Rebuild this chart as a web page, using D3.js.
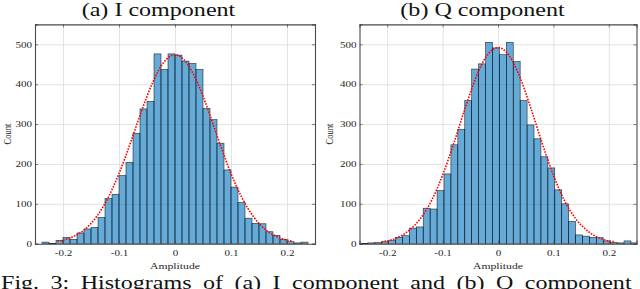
<!DOCTYPE html>
<html>
<head>
<meta charset="utf-8">
<script src="https://d3js.org/d3.v7.min.js"></script>
<style>
  body { margin: 0; background: #fff; }
</style>
</head>
<body>
<div id="chart"></div>
<script>
// histogram counts, 40 bins each, bin width 0.0125
const binWidth = 0.0125;
const iBinStart = -0.25;
const qBinStart = -0.2475;
const iCounts = [0, 4, 1, 8, 16, 11, 27, 37, 41, 66,
                 113, 124, 171, 204, 277, 338, 357, 476, 437, 476,
                 473, 458, 452, 437, 339, 311, 252, 185, 142, 103,
                 64, 51, 50, 30, 21, 11, 5, 2, 4, 0];
const qCounts = [1, 2, 3, 5, 8, 16, 20, 39, 42, 89,
                 87, 133, 175, 248, 287, 359, 438, 451, 505, 491,
                 474, 505, 457, 359, 298, 263, 218, 190, 135, 100,
                 56, 22, 19, 16, 15, 7, 3, 2, 7, 2];

// fitted curve (red dotted)
const curveX = [-0.21, -0.2, -0.18, -0.16, -0.14, -0.12, -0.1, -0.08, -0.06, -0.04, -0.02, 0,
                0.02, 0.04, 0.06, 0.08, 0.1, 0.12, 0.14, 0.16, 0.18, 0.2, 0.21];
const iCurve = [6, 9, 19, 37, 68, 114, 176, 251, 332, 404, 455, 474,
                455, 404, 332, 251, 176, 114, 68, 37, 19, 9, 6];
const qCurve = [5, 7, 16, 34, 63, 108, 172, 251, 337, 416, 472, 492,
                472, 416, 337, 251, 172, 108, 63, 34, 16, 7, 5];

const xTicks = [-0.2, -0.1, 0, 0.1, 0.2];
const xTickLabels = ["-0.2", "-0.1", "0", "0.1", "0.2"];
const yTicks = [0, 100, 200, 300, 400, 500];
const titles = ["(a) I component", "(b) Q component"];
const caption = "Fig. 3:  Histograms of (a) I component and (b) Q component";

const w = 640, h = 289;
const serif = '"Liberation Serif", "Times New Roman", Times, serif';
const stretch = 1.3;   // the original figure is widened horizontally

// widen glyphs like the source image
function widen(sel, k){
    sel.each(function(){
        const len = this.getComputedTextLength();
        d3.select(this).attr('textLength', len * k).attr('lengthAdjust', 'spacingAndGlyphs');
    });
}

const svg = d3.select('#chart').append('svg')
    .attr('width', w).attr('height', h)
    .style('font-family', serif);

const panels = [
    {left: 35, right: 315, counts: iCounts, start: iBinStart, curve: iCurve, title: titles[0], titleX: 158.5, countX: 7},
    {left: 359.5, right: 636.5, counts: qCounts, start: qBinStart, curve: qCurve, title: titles[1], titleX: 482.5, countX: 329}
];
const axTop = 24.4, axBottom = 243.7;

panels.forEach(function(p, idx){
    const xScale = d3.scaleLinear().domain([-0.25, 0.25]).range([p.left, p.right]);
    const yScale = d3.scaleLinear().domain([0, 550]).range([axBottom, axTop]);
    const g = svg.append('g');

    g.append('clipPath').attr('id', 'clip' + idx)
        .append('rect').attr('x', p.left).attr('y', axTop)
        .attr('width', p.right - p.left).attr('height', axBottom - axTop);

    // grid
    g.append('g')
        .attr('transform', 'translate(0,' + axBottom + ')')
        .call(d3.axisBottom(xScale).tickValues(xTicks).tickSize(-(axBottom - axTop)).tickFormat(''))
        .call(s => s.select('.domain').remove())
        .selectAll('line').attr('stroke', '#dcdcdc').attr('stroke-width', 0.8);
    g.append('g')
        .attr('transform', 'translate(' + p.left + ',0)')
        .call(d3.axisLeft(yScale).tickValues(yTicks).tickSize(-(p.right - p.left)).tickFormat(''))
        .call(s => s.select('.domain').remove())
        .selectAll('line').attr('stroke', '#dcdcdc').attr('stroke-width', 0.8);

    // bars
    g.append('g').attr('clip-path', 'url(#clip' + idx + ')')
        .selectAll('rect')
        .data(p.counts)
        .enter()
        .append('rect')
        .attr('x', (d, i) => xScale(p.start + i * binWidth))
        .attr('width', (d, i) => xScale(p.start + (i + 1) * binWidth) - xScale(p.start + i * binWidth))
        .attr('y', d => yScale(d))
        .attr('height', d => yScale(0) - yScale(d))
        .attr('fill', '#0072BD')
        .attr('fill-opacity', 0.6)
        .attr('stroke', '#000')
        .attr('stroke-opacity', 0.8)
        .attr('stroke-width', 0.6);

    // fitted curve
    const line = d3.line()
        .x((d, i) => xScale(curveX[i]))
        .y(d => yScale(d))
        .curve(d3.curveMonotoneX);
    g.append('path')
        .datum(p.curve)
        .attr('d', line)
        .attr('fill', 'none')
        .attr('stroke', '#ff0000')
        .attr('stroke-width', 1.6)
        .attr('stroke-dasharray', '1.6,1.3');

    // axes with inward ticks on all sides
    const axisColor = '#4a4a4a';
    const xAxis = g.append('g')
        .attr('transform', 'translate(0,' + axBottom + ')')
        .call(d3.axisBottom(xScale).tickValues(xTicks).tickSize(-3).tickPadding(6)
            .tickFormat((d, i) => xTickLabels[i]));
    const yAxis = g.append('g')
        .attr('transform', 'translate(' + p.left + ',0)')
        .call(d3.axisLeft(yScale).tickValues(yTicks).tickSize(-3).tickPadding(3));
    const xTop = g.append('g')
        .attr('transform', 'translate(0,' + axTop + ')')
        .call(d3.axisTop(xScale).tickValues(xTicks).tickSize(-3).tickFormat(''));
    const yRight = g.append('g')
        .attr('transform', 'translate(' + p.right + ',0)')
        .call(d3.axisRight(yScale).tickValues(yTicks).tickSize(-3).tickFormat(''));
    [xAxis, yAxis, xTop, yRight].forEach(a => {
        a.attr('font-family', serif);
        a.select('.domain').attr('stroke', axisColor).attr('stroke-width', 1.1);
        a.selectAll('line').attr('stroke', axisColor).attr('stroke-width', 0.7);
        a.selectAll('text').attr('fill', '#262626').attr('font-size', 8.5);
    });
    widen(xAxis.selectAll('text'), stretch);
    widen(yAxis.selectAll('text'), stretch);

    // labels
    const xl = g.append('text')
        .attr('x', xScale(0))
        .attr('y', 269)
        .attr('text-anchor', 'middle')
        .attr('font-size', 9)
        .attr('fill', '#262626')
        .text('Amplitude');
    widen(xl, stretch);
    g.append('text')
        .attr('transform', 'translate(' + p.countX + ',' + ((axTop + axBottom) / 2) + ') rotate(-90) scale(1,' + stretch + ')')
        .attr('dy', '0.35em')
        .attr('text-anchor', 'middle')
        .attr('font-size', 8.5)
        .attr('fill', '#262626')
        .text('Count');

    const t = g.append('text')
        .attr('x', p.titleX)
        .attr('y', 16)
        .attr('text-anchor', 'middle')
        .attr('font-size', 18.5)
        .attr('fill', '#111')
        .text(p.title);
    widen(t, stretch);
});

// caption, justified over the full width
const cap = svg.append('text')
    .attr('x', 1)
    .attr('y', 289)
    .attr('font-size', 18.5)
    .attr('fill', '#111')
    .text(caption);
const natural = cap.node().getComputedTextLength();
const spaces = caption.split(' ').length - 1;
cap.attr('word-spacing', (636 / stretch - natural) / spaces);
widen(cap, stretch);
</script>
</body>
</html>
